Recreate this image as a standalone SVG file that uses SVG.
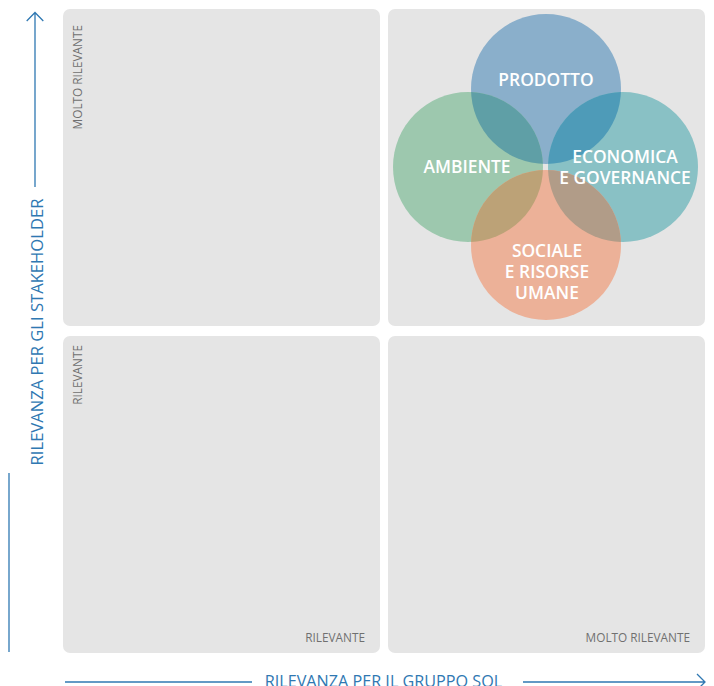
<svg xmlns="http://www.w3.org/2000/svg" width="714" height="686" viewBox="0 0 714 686">
<style>
.quad{fill:#e5e5e5}
.axis{stroke:#2f78b2;stroke-width:1.3;fill:none}
.axtxt{font-family:"Open Sans","Noto Sans",sans-serif;font-size:16.6px;fill:#2f78b2}
.small{font-family:"Open Sans","Noto Sans",sans-serif;font-size:11.8px;fill:#707070}
.lbl{font-family:"Open Sans","Noto Sans",sans-serif;font-size:17.4px;font-weight:600;fill:#ffffff;text-anchor:middle}
</style>
<defs>
<clipPath id="cP"><circle cx="546" cy="89" r="75"/></clipPath>
<clipPath id="cS"><circle cx="546" cy="245" r="75"/></clipPath>
</defs>
<g id="quadrants">
<rect class="quad" x="63" y="9" width="317" height="317" rx="7"/>
<rect class="quad" x="388" y="9" width="317" height="317" rx="7"/>
<rect class="quad" x="63" y="336" width="317" height="317" rx="7"/>
<rect class="quad" x="388" y="336" width="317" height="317" rx="7"/>
<text class="small" text-anchor="end" transform="translate(82,25) rotate(-90)">MOLTO RILEVANTE</text>
<text class="small" text-anchor="end" transform="translate(82,345) rotate(-90)">RILEVANTE</text>
<text class="small" x="365" y="641.5" text-anchor="end">RILEVANTE</text>
<text class="small" x="690" y="641.5" text-anchor="end">MOLTO RILEVANTE</text>
</g>
<g id="axes">
<path class="axis" d="M35 187V12.5M26.7 21L35 12.5L43.3 21"/>
<path class="axis" d="M9 473V652"/>
<text class="axtxt" text-anchor="middle" transform="translate(43,332) rotate(-90)">RILEVANZA PER GLI STAKEHOLDER</text>
<path class="axis" d="M65 682H252"/>
<path class="axis" d="M523 682H705M697 674L705 682L697 690"/>
<text class="axtxt" x="383.5" y="687" text-anchor="middle" style="font-size:16.2px">RILEVANZA PER IL GRUPPO SOL</text>
</g>
<g id="node-prodotto"><circle cx="546" cy="89" r="75" fill="#8aafcb"/></g>
<g id="node-ambiente"><circle cx="468" cy="167" r="75" fill="#9dc8ae"/></g>
<g id="node-economica"><circle cx="623" cy="167" r="75" fill="#89c1c5"/></g>
<g id="node-sociale"><circle cx="546" cy="245" r="75" fill="#ecb198"/></g>
<g id="overlaps">
<circle cx="468" cy="167" r="75" fill="#5f9fa6" clip-path="url(#cP)"/>
<circle cx="623" cy="167" r="75" fill="#4e9bb8" clip-path="url(#cP)"/>
<circle cx="468" cy="167" r="75" fill="#bca277" clip-path="url(#cS)"/>
<circle cx="623" cy="167" r="75" fill="#b19c88" clip-path="url(#cS)"/>
</g>
<g id="labels">
<text class="lbl" x="546" y="86">PRODOTTO</text>
<text class="lbl" x="467" y="173">AMBIENTE</text>
<text class="lbl" x="625" y="163">ECONOMICA</text>
<text class="lbl" x="625" y="184">E GOVERNANCE</text>
<text class="lbl" x="547" y="257">SOCIALE</text>
<text class="lbl" x="547" y="278">E RISORSE</text>
<text class="lbl" x="547" y="299">UMANE</text>
</g>
</svg>
